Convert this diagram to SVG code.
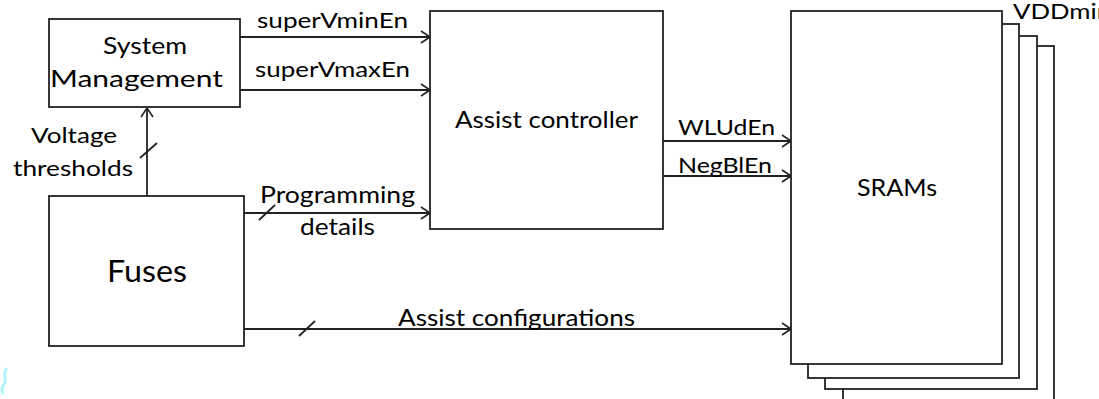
<svg xmlns="http://www.w3.org/2000/svg" width="1099" height="399" viewBox="0 0 1099 399">
<style>
.box{fill:#fff;stroke:#222;stroke-width:1.8}
.ln{fill:none;stroke:#222;stroke-width:1.8}
text{font-family:Lato,"Open Sans",sans-serif;fill:#000;font-size:22px}
.b{font-size:24px}
</style>
<defs>
<marker id="ah" viewBox="0 0 10 14" refX="10" refY="7" markerWidth="10" markerHeight="14" markerUnits="userSpaceOnUse" orient="auto">
<path d="M1,1 L10,7 L1,13" fill="none" stroke="#222" stroke-width="1.6"/>
</marker>
</defs>
<rect width="1099" height="399" fill="#fff"/>
<g id="sram">
<rect class="box" x="843" y="46" width="211" height="360"/>
<rect class="box" x="825" y="36" width="212" height="353"/>
<rect class="box" x="808" y="24" width="211" height="354"/>
<rect class="box" x="791" y="11" width="211" height="353"/>
<text class="b" x="857" y="196" textLength="80" lengthAdjust="spacingAndGlyphs">SRAMs</text>
<text x="1013" y="19" textLength="98" lengthAdjust="spacingAndGlyphs">VDDmin</text>
</g>
<g id="sysmgmt">
<rect class="box" x="49" y="19" width="191" height="88"/>
<text class="b" x="103" y="54" textLength="84" lengthAdjust="spacingAndGlyphs">System</text>
<text class="b" x="50" y="87" textLength="173" lengthAdjust="spacingAndGlyphs">Management</text>
</g>
<g id="fuses">
<rect class="box" x="49" y="196" width="195" height="150"/>
<text x="107" y="282" style="font-size:30px" textLength="80" lengthAdjust="spacingAndGlyphs">Fuses</text>
</g>
<g id="assist">
<rect class="box" x="430" y="11" width="233" height="218"/>
<text class="b" x="455" y="128" textLength="183" lengthAdjust="spacingAndGlyphs">Assist controller</text>
</g>
<g id="connectors">
<path class="ln" d="M147,196 V108" marker-end="url(#ah)"/>
<path class="ln" d="M140,158 L157,143"/>
<path class="ln" d="M240,37 H430" marker-end="url(#ah)"/>
<path class="ln" d="M240,90 H430" marker-end="url(#ah)"/>
<path class="ln" d="M244,213 H430" marker-end="url(#ah)"/>
<path class="ln" d="M259,220 L275,205"/>
<path class="ln" d="M244,329 H791" marker-end="url(#ah)"/>
<path class="ln" d="M299,336 L315,321"/>
<path class="ln" d="M663,141 H791" marker-end="url(#ah)"/>
<path class="ln" d="M663,176 H791" marker-end="url(#ah)"/>
<text x="257" y="28" textLength="151" lengthAdjust="spacingAndGlyphs">superVminEn</text>
<text x="255" y="77" textLength="155" lengthAdjust="spacingAndGlyphs">superVmaxEn</text>
<text x="31" y="143" textLength="86" lengthAdjust="spacingAndGlyphs">Voltage</text>
<text x="13" y="176" textLength="120" lengthAdjust="spacingAndGlyphs">thresholds</text>
<text x="260" y="203" style="font-size:23px" textLength="155" lengthAdjust="spacingAndGlyphs">Programming</text>
<text x="300" y="235" style="font-size:23px" textLength="75" lengthAdjust="spacingAndGlyphs">details</text>
<text x="398" y="326" style="font-size:23px" textLength="237" lengthAdjust="spacingAndGlyphs">Assist configurations</text>
<text x="678" y="135" textLength="97" lengthAdjust="spacingAndGlyphs">WLUdEn</text>
<text x="678" y="173" textLength="94" lengthAdjust="spacingAndGlyphs">NegBlEn</text>
</g>
<path d="M7,368 C1,374 9,380 3,386 C0,390 4,392 2,394" fill="none" stroke="#aef4f8" stroke-width="3"/>
</svg>
